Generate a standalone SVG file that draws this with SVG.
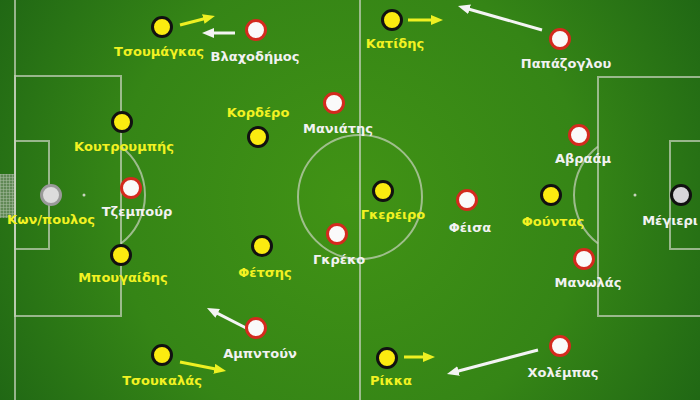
<svg xmlns="http://www.w3.org/2000/svg" width="700" height="400" viewBox="0 0 700 400">
<defs>
<radialGradient id="grass" cx="350" cy="200" r="430" gradientUnits="userSpaceOnUse">
<stop offset="0" stop-color="#419315"/>
<stop offset="0.55" stop-color="#358516"/>
<stop offset="1" stop-color="#1d6314"/>
</radialGradient>
<pattern id="net" width="3" height="3" patternUnits="userSpaceOnUse">
<rect width="3" height="3" fill="#6f8f66"/>
<path d="M0 0H3M0 0V3" stroke="#c8d0c4" stroke-width="1"/>
</pattern>
<marker id="ah-y" markerUnits="userSpaceOnUse" markerWidth="12" markerHeight="10" refX="4" refY="5" orient="auto">
<path d="M0 0L12 5L0 10z" fill="#eef022"/>
</marker>
<marker id="ah-w" markerUnits="userSpaceOnUse" markerWidth="12" markerHeight="10" refX="4" refY="5" orient="auto">
<path d="M0 0L12 5L0 10z" fill="#f4f4f4"/>
</marker>
</defs>
<style>
.line{fill:none;stroke:#c9d3bf;stroke-opacity:0.7;stroke-width:2}
.yel{fill:#fbeb10;stroke:#111;stroke-width:3}
.wht{fill:#fafafa;stroke:#d42a1e;stroke-width:3}
.gk1{fill:#dcdcdc;stroke:#9a9a9a;stroke-width:3}
.gk2{fill:#d8d6da;stroke:#111;stroke-width:3}
text{font-family:"DejaVu Sans","Liberation Sans",sans-serif;font-weight:bold;font-size:13px;text-anchor:middle}
.ty{fill:#f2f222}
.tw{fill:#f2f2f2}
.ay{stroke:#eef022;stroke-width:3;fill:none;marker-end:url(#ah-y)}
.aw{stroke:#f4f4f4;stroke-width:3;fill:none;marker-end:url(#ah-w)}
</style>
<rect width="700" height="400" fill="url(#grass)"/>
<g id="pitch">
<rect x="0" y="174" width="15" height="44" fill="url(#net)" opacity="0.8"/>
<line class="line" x1="15" y1="0" x2="15" y2="400"/>
<line class="line" x1="360" y1="0" x2="360" y2="400"/>
<circle class="line" cx="360" cy="197" r="62"/>
<rect class="line" x="15" y="76" width="106" height="240"/>
<rect class="line" x="15" y="141" width="34" height="108"/>
<path class="line" d="M121 146.5A61 61 0 0 1 121 243.5"/>
<circle cx="84" cy="195" r="1.5" fill="#c9d3bf"/>
<rect class="line" x="598" y="77" width="110" height="239"/>
<rect class="line" x="670" y="141" width="40" height="108"/>
<path class="line" d="M598 146.5A61 61 0 0 0 598 243.5"/>
<circle cx="635" cy="195" r="1.5" fill="#c9d3bf"/>
</g>
<g id="connectors">
<line class="ay" x1="180" y1="25" x2="207.2" y2="18"/>
<line class="aw" x1="235" y1="33" x2="210" y2="33"/>
<line class="ay" x1="408" y1="20" x2="435" y2="20"/>
<line class="aw" x1="542" y1="30" x2="465.7" y2="8.2"/>
<line class="aw" x1="250" y1="330" x2="214.1" y2="311.6"/>
<line class="ay" x1="180" y1="362" x2="218.2" y2="369.5"/>
<line class="ay" x1="404" y1="357" x2="427" y2="357"/>
<line class="aw" x1="538" y1="350" x2="454.7" y2="372"/>
</g>
<g id="tsoumagkas"><circle class="yel" cx="162" cy="27" r="9.5"/><text class="ty" x="159" y="56">Τσουμάγκας</text></g>
<g id="vlachodimos"><circle class="wht" cx="256" cy="30" r="9.5"/><text class="tw" x="255" y="61">Βλαχοδήμος</text></g>
<g id="koutroumpis"><circle class="yel" cx="122" cy="122" r="9.5"/><text class="ty" x="124" y="151">Κουτρουμπής</text></g>
<g id="kordero"><circle class="yel" cx="258" cy="137" r="9.5"/><text class="ty" x="258" y="117">Κορδέρο</text></g>
<g id="maniatis"><circle class="wht" cx="334" cy="103" r="9.5"/><text class="tw" x="338" y="133">Μανιάτης</text></g>
<g id="tzempour"><circle class="wht" cx="131" cy="188" r="9.5"/><text class="tw" x="137" y="216">Τζεμπούρ</text></g>
<g id="konstantopoulos"><circle class="gk1" cx="51" cy="195" r="9.5"/><text class="ty" x="51" y="224">Κων/πουλος</text></g>
<g id="mpougaidis"><circle class="yel" cx="121" cy="255" r="9.5"/><text class="ty" x="123" y="282">Μπουγαίδης</text></g>
<g id="fetsis"><circle class="yel" cx="262" cy="246" r="9.5"/><text class="ty" x="265" y="277">Φέτσης</text></g>
<g id="greko"><circle class="wht" cx="337" cy="234" r="9.5"/><text class="tw" x="339" y="264">Γκρέκο</text></g>
<g id="ampntoun"><circle class="wht" cx="256" cy="328" r="9.5"/><text class="tw" x="260" y="358">Αμπντούν</text></g>
<g id="tsoukalas"><circle class="yel" cx="162" cy="355" r="9.5"/><text class="ty" x="162" y="385">Τσουκαλάς</text></g>
<g id="katidis"><circle class="yel" cx="392" cy="20" r="9.5"/><text class="ty" x="395" y="48">Κατίδης</text></g>
<g id="papazoglou"><circle class="wht" cx="560" cy="39" r="9.5"/><text class="tw" x="566" y="68">Παπάζογλου</text></g>
<g id="avraam"><circle class="wht" cx="579" cy="135" r="9.5"/><text class="tw" x="583" y="163">Αβραάμ</text></g>
<g id="gkereiro"><circle class="yel" cx="383" cy="191" r="9.5"/><text class="ty" x="393" y="219">Γκερέιρο</text></g>
<g id="feisa"><circle class="wht" cx="467" cy="200" r="9.5"/><text class="tw" x="470" y="232">Φέισα</text></g>
<g id="fountas"><circle class="yel" cx="551" cy="195" r="9.5"/><text class="ty" x="553" y="226">Φούντας</text></g>
<g id="megieri"><circle class="gk2" cx="681" cy="195" r="9.5"/><text class="tw" x="670" y="225">Μέγιερι</text></g>
<g id="manolas"><circle class="wht" cx="584" cy="259" r="9.5"/><text class="tw" x="588" y="287">Μανωλάς</text></g>
<g id="rikka"><circle class="yel" cx="387" cy="358" r="9.5"/><text class="ty" x="391" y="385">Ρίκκα</text></g>
<g id="cholempas"><circle class="wht" cx="560" cy="346" r="9.5"/><text class="tw" x="563" y="377">Χολέμπας</text></g>
</svg>
